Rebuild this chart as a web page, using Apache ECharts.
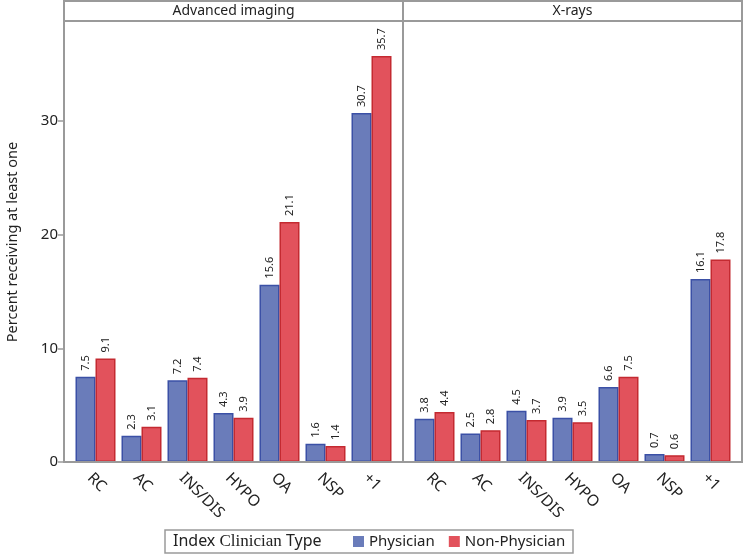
<!DOCTYPE html>
<html>
<head>
<meta charset="utf-8">
<script src="https://cdn.jsdelivr.net/npm/echarts@6/dist/echarts.min.js"></script>
<style>html,body{margin:0;padding:0;background:#fff}#c{width:744px;height:555px}</style>
</head>
<body>
<div id="c"></div>
<script>
const categories = ['RC', 'AC', 'INS/DIS', 'HYPO', 'OA', 'NSP', '+1'];
const panels = ['Advanced imaging', 'X-rays'];
const seriesNames = ['Physician', 'Non-Physician'];
const advPhysician = [7.5, 2.3, 7.2, 4.3, 15.6, 1.6, 30.7];
const advNonPhysician = [9.1, 3.1, 7.4, 3.9, 21.1, 1.4, 35.7];
const xrPhysician = [3.8, 2.5, 4.5, 3.9, 6.6, 0.7, 16.1];
const xrNonPhysician = [4.4, 2.8, 3.7, 3.5, 7.5, 0.6, 17.8];
const yTicks = [0, 10, 20, 30];
const yTitle = 'Percent receiving at least one';

const FONT = '"Noto Sans", "Open Sans", sans-serif';
const blue = '#6a7cba', blueBorder = '#3b50a6';
const red = '#e2525c', redBorder = '#c42a31';
const frame = '#9a9a9a';

const chart = echarts.init(document.getElementById('c'), null, {renderer: 'canvas'});

function barSeries(name, data, idx, color, border) {
  return {
    name: name, type: 'bar', xAxisIndex: idx, yAxisIndex: idx, data: data,
    barWidth: 20, barGap: '0%',
    itemStyle: {color: color, borderColor: border, borderWidth: 1.5},
    label: {
      show: true, position: 'top', rotate: 90, align: 'left', verticalAlign: 'middle',
      distance: 6, fontSize: 11, fontFamily: FONT, color: '#222',
      formatter: p => p.value.toFixed(1)
    }
  };
}

function xAxis(idx) {
  return {
    type: 'category', gridIndex: idx, data: categories,
    axisLine: {show: true, lineStyle: {color: frame, width: 2}},
    axisTick: {show: false},
    axisLabel: {rotate: -45, margin: 8, fontSize: 15.5, fontFamily: FONT, color: '#222', interval: 0,
      verticalAlign: 'top'}
  };
}

function yAxis(idx) {
  return {
    type: 'value', gridIndex: idx, min: 0, max: 38.7, interval: 10, offset: 8.5,
    show: idx === 0,
    name: idx === 0 ? yTitle : '', nameLocation: 'middle', nameGap: 44,
    nameTextStyle: {fontSize: 14.5, fontFamily: FONT, color: '#222'},
    splitLine: {show: false},
    axisLine: {show: false},
    axisTick: {show: true, length: 6, lineStyle: {color: frame, width: 1.5}, customValues: yTicks},
    axisLabel: {fontSize: 15, fontFamily: FONT, color: '#222', margin: 6, customValues: yTicks}
  };
}

const panelBox = [[64, 403], [403, 742]];
const graphics = [];
panelBox.forEach((b, i) => {
  graphics.push({type: 'rect', shape: {x: b[0], y: 1, width: b[1] - b[0], height: 20},
    style: {fill: 'none', stroke: frame, lineWidth: 2}, z: 10});
  graphics.push({type: 'rect', shape: {x: b[0], y: 21, width: b[1] - b[0], height: 441},
    style: {fill: 'none', stroke: frame, lineWidth: 2}, z: 10});
  graphics.push({type: 'text', x: (b[0] + b[1]) / 2, y: 11,
    style: {text: panels[i], fontSize: 14, fontFamily: FONT, fill: '#222', align: 'center', verticalAlign: 'middle'}, z: 11});
});
// legend box and title
graphics.push({type: 'rect', shape: {x: 165, y: 530, width: 408, height: 23},
  style: {fill: 'none', stroke: frame, lineWidth: 1.5}, z: 10});
graphics.push({type: 'text', x: 173, y: 541.5,
  style: {text: 'Index {s|Clinician} Type', fontSize: 16, fontFamily: FONT, fill: '#222', verticalAlign: 'middle',
    rich: {s: {fontFamily: '"Liberation Serif", serif', fontSize: 17, fill: '#222'}}}, z: 11});

chart.setOption({
  animation: false,
  grid: [
    {left: 72.5, top: 22, width: 322, height: 440},
    {left: 411.5, top: 22, width: 322, height: 440}
  ],
  xAxis: [xAxis(0), xAxis(1)],
  yAxis: [yAxis(0), yAxis(1)],
  legend: {
    data: seriesNames, left: 353, top: 534, padding: 0, itemWidth: 11, itemHeight: 11, itemGap: 14,
    icon: 'rect', itemStyle: {borderWidth: 0},
    textStyle: {fontSize: 15, fontFamily: FONT, color: '#222'}
  },
  series: [
    barSeries(seriesNames[0], advPhysician, 0, blue, blueBorder),
    barSeries(seriesNames[1], advNonPhysician, 0, red, redBorder),
    barSeries(seriesNames[0], xrPhysician, 1, blue, blueBorder),
    barSeries(seriesNames[1], xrNonPhysician, 1, red, redBorder)
  ],
  graphic: graphics
});
</script>
</body>
</html>
